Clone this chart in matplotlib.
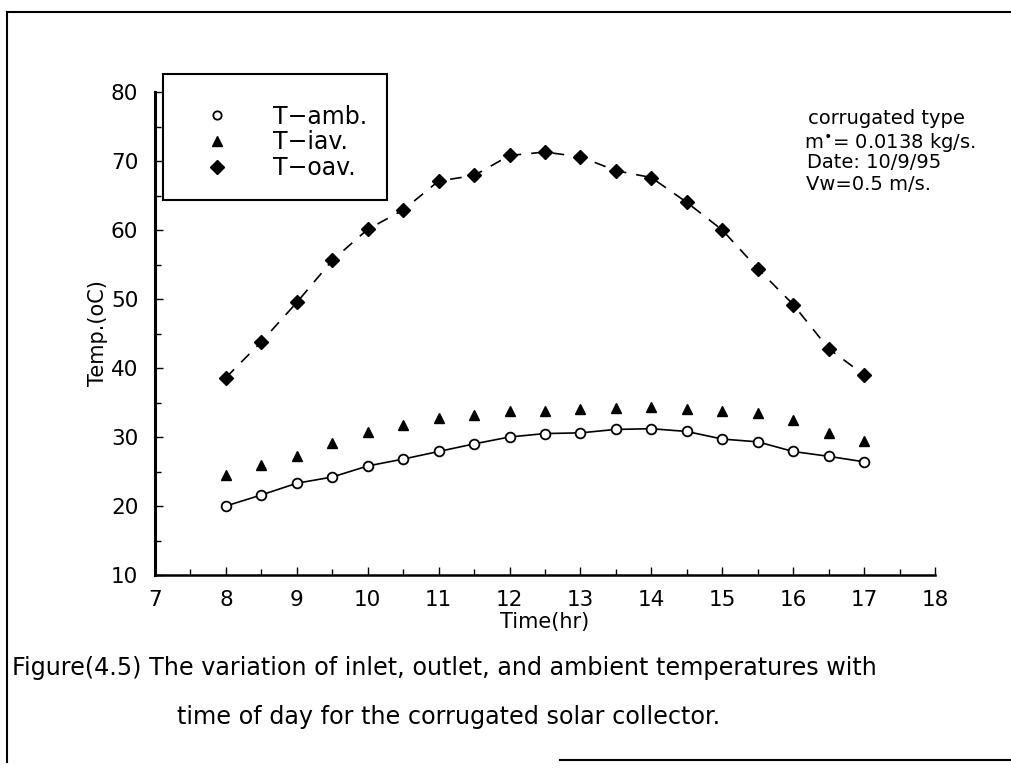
import matplotlib
matplotlib.use("Agg")
import matplotlib.pyplot as plt
from matplotlib.lines import Line2D
from matplotlib.ticker import MultipleLocator

# ---- data ----
time_hr = [8, 8.5, 9, 9.5, 10, 10.5, 11, 11.5, 12, 12.5, 13, 13.5, 14, 14.5, 15, 15.5, 16, 16.5, 17]
t_amb = [20.0, 21.6, 23.3, 24.2, 25.8, 26.8, 27.9, 29.0, 30.0, 30.5, 30.6, 31.1, 31.2, 30.8, 29.7, 29.3, 27.9, 27.2, 26.4]
t_iav = [24.5, 25.9, 27.2, 29.2, 30.7, 31.7, 32.7, 33.2, 33.7, 33.8, 34.0, 34.2, 34.4, 34.0, 33.7, 33.5, 32.4, 30.6, 29.4]
t_oav = [38.6, 43.8, 49.5, 55.6, 60.1, 62.9, 67.1, 67.9, 70.8, 71.3, 70.6, 68.6, 67.6, 64.0, 60.0, 54.4, 49.2, 42.8, 39.0]
legend_labels = ["T\u2212amb.", "T\u2212iav.", "T\u2212oav."]
x_ticks = list(range(7, 19))
y_ticks = list(range(10, 81, 10))
info_lines = ["corrugated type", r"m$^{\bullet}$= 0.0138 kg/s.", "Date: 10/9/95", "Vw=0.5 m/s."]
caption1 = "Figure(4.5) The variation of inlet, outlet, and ambient temperatures with"
caption2 = "time of day for the corrugated solar collector."

W, H = 1011, 769
fig = plt.figure(figsize=(W / 100, H / 100), dpi=100)
fig.patch.set_facecolor("white")

L, R, T, B = 155, 935, 92, 575
ax = fig.add_axes([L / W, 1 - B / H, (R - L) / W, (B - T) / H])

ax.plot(time_hr, t_amb, color="black", lw=1.2, marker="o", ms=7,
        mfc="white", mec="black", mew=1.3)
ax.plot(time_hr, t_iav, ls="none", marker="^", ms=7.5, color="black")
ax.plot(time_hr, t_oav, color="black", lw=1.2, ls=(0, (7, 6)), marker="D", ms=6.8,
        mfc="black", mec="black")

ax.set_xlim(7, 18)
ax.set_ylim(10, 80)
ax.set_xticks(x_ticks)
ax.set_yticks(y_ticks)
ax.xaxis.set_minor_locator(MultipleLocator(0.5))
ax.yaxis.set_minor_locator(MultipleLocator(5))
ax.tick_params(which="both", direction="in", labelsize=15.5, width=1.0, color="black")
ax.tick_params(which="major", length=6)
ax.tick_params(which="minor", length=4)
ax.tick_params(axis="x", pad=11)
ax.tick_params(axis="y", pad=12)

for s in ["top", "right"]:
    ax.spines[s].set_visible(False)
ax.spines["left"].set_linewidth(2.2)
ax.spines["bottom"].set_linewidth(1.8)

ax.set_xlabel("Time(hr)", fontsize=15, labelpad=1)
ax.set_ylabel("Temp.(oC)", fontsize=15, labelpad=2)

handles = [
    Line2D([], [], ls="none", marker="o", ms=6, mfc="white", mec="black", mew=1.3),
    Line2D([], [], ls="none", marker="^", ms=7.5, color="black"),
    Line2D([], [], ls="none", marker="D", ms=6.8, color="black"),
]
leg = ax.legend(handles, legend_labels, loc="upper left",
                bbox_to_anchor=(163 / W, 1 - 74 / H), bbox_transform=fig.transFigure,
                borderaxespad=0, fontsize=17, frameon=True, fancybox=False,
                framealpha=1, edgecolor="black", borderpad=0.85, labelspacing=0.07,
                handlelength=2.85, handletextpad=0.95, title=" ", title_fontsize=6)
leg.get_frame().set_linewidth(1.5)

info_y = [118, 142, 163, 185]
info_x = [808, 804, 807, 806]
for txt, yy, xx in zip(info_lines, info_y, info_x):
    fig.text(xx / W, 1 - yy / H, txt, fontsize=14, ha="left", va="center")

fig.text(12 / W, 1 - 668 / H, caption1, fontsize=17.2, ha="left", va="center")
fig.text(177 / W, 1 - 717 / H, caption2, fontsize=17.2, ha="left", va="center")

# page frame lines
fig.add_artist(Line2D([7 / W, 7 / W], [1 - 12 / H, 1 - 762 / H], color="black", lw=1.5,
                      transform=fig.transFigure))
fig.add_artist(Line2D([7 / W, 1.0], [1 - 12 / H, 1 - 12 / H], color="black", lw=1.5,
                      transform=fig.transFigure))
fig.add_artist(Line2D([560 / W, 1.0], [1 - 760 / H, 1 - 760 / H], color="black", lw=1.5,
                      transform=fig.transFigure))

fig.savefig("out.png", dpi=100)
